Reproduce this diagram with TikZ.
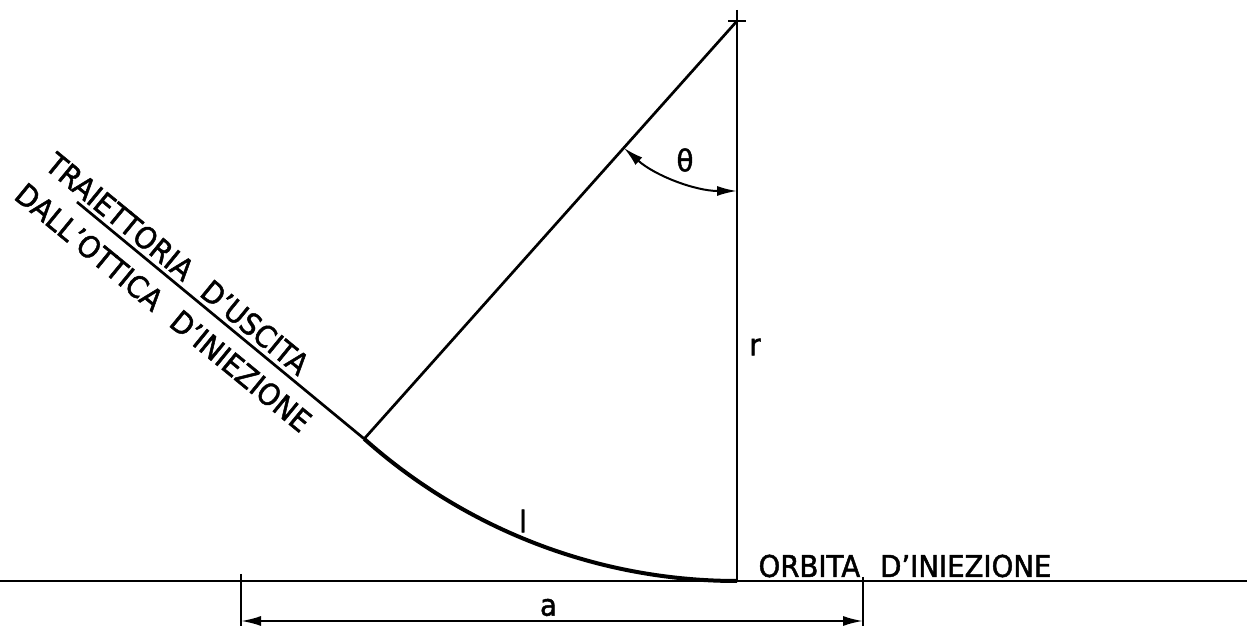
\documentclass[tikz,border=0pt]{standalone}
\usepackage{fontspec}
\setmainfont{DejaVu Sans}[FakeStretch=0.92,FakeBold=1.6]
\usetikzlibrary{arrows.meta,calc}
\begin{document}
\begin{tikzpicture}[x=0.5pt,y=0.5pt,
  thinline/.style={line width=1pt},
  medline/.style={line width=1.35pt},
  thickline/.style={line width=2pt},
  dimline/.style={line width=1pt},
  dimarrow/.style={line width=1pt,{Latex[length=10pt,width=5pt]}-{Latex[length=10pt,width=5pt]}},
  lbl/.style={inner sep=0pt,font=\fontsize{15}{18}\selectfont}]
\useasboundingbox (0,0) rectangle (1247,626);
% centre of curvature and main points
\coordinate (C) at (737,605);
\coordinate (Ctop) at (737,616);
\coordinate (Cl) at (728,605);
\coordinate (Cr) at (746,605);
\coordinate (O) at (737,45);
\coordinate (HL) at (0,45);
\coordinate (HR) at (1247,45);
\coordinate (J) at ($(C)+(228.26:560)$);
\coordinate (P0) at (77,424);
\coordinate (T1) at ($(C)+(228.26:170)$);
\coordinate (T2) at (737,435);
% dimension a
\coordinate (E1a) at (241,52);
\coordinate (E1b) at (241,-6);
\coordinate (E2a) at (863,49);
\coordinate (E2b) at (863,-6);
\coordinate (DL) at (241,5);
\coordinate (DR) at (863,5);
% lines
\draw[thinline] (Ctop) -- (O);
\draw[thinline] (Cl) -- (Cr);
\draw[medline] (HL) -- (HR);
\draw[medline] (C) -- (J);
\draw[medline] (P0) -- (J);
\draw[thickline] (J) arc[start angle=228.26, end angle=270, radius=560];
\draw[dimarrow] (T1) arc[start angle=228.26, end angle=270, radius=170];
\draw[dimline] (E1a) -- (E1b);
\draw[dimline] (E2a) -- (E2b);
\draw[dimarrow] (DL) -- (DR);
% labels
\node[lbl] (theta) at (685,466) {θ};
\node[lbl] (r) at (755,279) {r};
\node[lbl] (l) at (523,105) {l};
\node[lbl] (a) at (548.5,18.5) {a};
\node[lbl] (orb) at (905,60) {ORBITA\hspace{10pt}D’INIEZIONE};
\node[lbl,rotate=-39.35] (traj) at (177.6,362.2) {TRAIETTORIA\hspace{10pt}D’USCITA};
\node[lbl,rotate=-39.35] (dall) at (163.4,318.5) {DALL’OTTICA\hspace{10pt}D’INIEZIONE};
\end{tikzpicture}
\end{document}
